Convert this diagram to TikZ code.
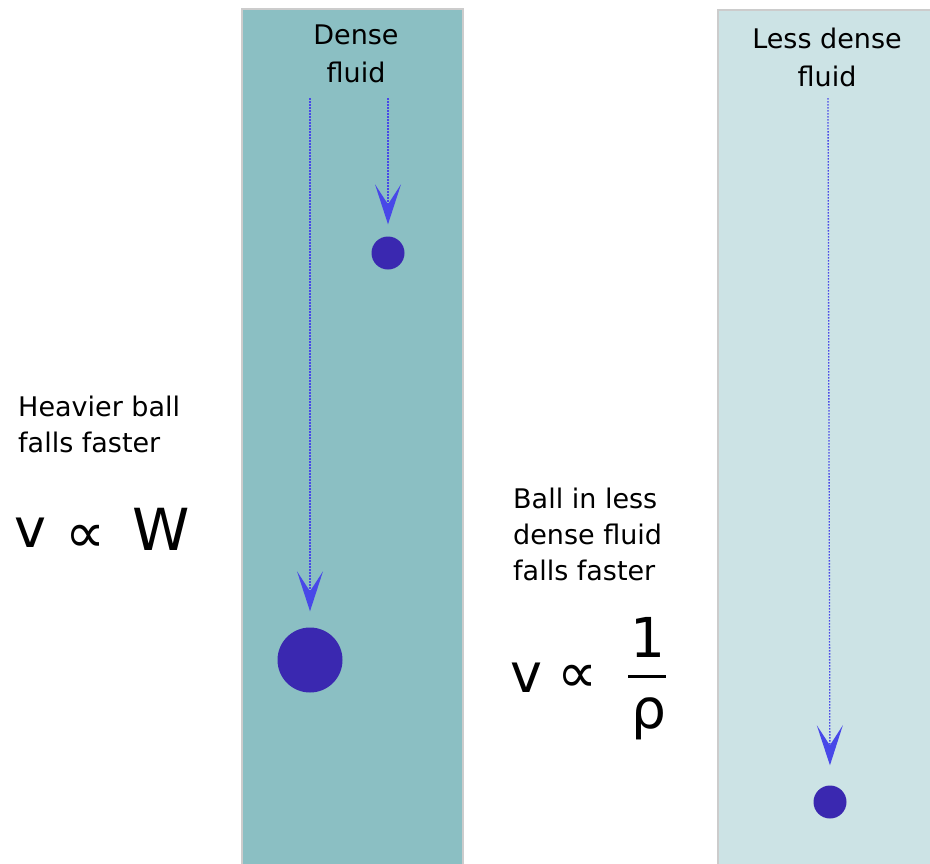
\documentclass[tikz,border=0pt]{standalone}
\usepackage{fontspec}
\setmainfont{DejaVu Sans}
\usetikzlibrary{arrows.meta}
\definecolor{densefill}{HTML}{8BBFC3}
\definecolor{lessfill}{HTML}{CCE3E5}
\definecolor{tankedge}{HTML}{CCCCCC}
\definecolor{arrowblue}{HTML}{4848E8}
\definecolor{ballblue}{HTML}{3A28B0}
\tikzset{
  tank/.style={draw=tankedge, line width=2.5pt},
  fall/.style={arrowblue, line width=1.3pt, dash pattern=on 1.5pt off 1.5pt,
    -{Stealth[length=40pt,width=26pt,inset=20pt]}},
  ball/.style={circle, fill=ballblue, inner sep=0pt, draw=none},
  lbl/.style={font=\fontsize{27}{38}\selectfont, align=center, inner sep=0pt, anchor=base},
  side/.style={font=\fontsize{27}{36}\selectfont, align=left, anchor=base west, inner sep=0pt},
  big/.style={inner sep=0pt, anchor=base west}
}
\begin{document}
\begin{tikzpicture}[x=1pt,y=-1pt]
\useasboundingbox (0,0) rectangle (930,863);
\fill[white] (0,0) rectangle (930,863);
% tanks
\path[fill=densefill, tank] (242,9) rectangle (463,880);
\path[fill=lessfill, tank] (718,10) rectangle (945,880);
% tank labels (anchor = baseline of last line)
\node[lbl] (dlab) at (356,82) {Dense\\fluid};
\node[lbl] (llab) at (827,86) {Less dense\\fluid};
% balls
\node[ball, minimum size=33pt] (b1) at (388,253) {};
\node[ball, minimum size=65pt] (b2) at (310,660) {};
\node[ball, minimum size=33pt] (b3) at (830,802) {};
% fall paths
\coordinate (s1) at (388,98);
\coordinate (s2) at (310,98);
\coordinate (s3) at (828,98);
\draw[fall, shorten >=12pt] (s1) -- (b1.north);
\draw[fall, shorten >=16pt] (s2) -- (b2.north);
\draw[fall, shorten >=20pt] (s3) -- (b3.north);
% side texts
\node[side] (t1) at (18,452) {Heavier ball\\falls faster};
\node[big, font=\fontsize{54}{54}\selectfont] (v1) at (14,547) {v};
\node[big, font=\fontsize{56}{56}\selectfont] (p1) at (65,552) {∝};
\node[big, font=\fontsize{58}{58}\selectfont] (w1) at (132,550) {W};
\node[side] (t2) at (513,580) {Ball in less\\dense fluid\\falls faster};
\node[big, font=\fontsize{54}{54}\selectfont] (v2) at (510,692) {v};
\node[big, font=\fontsize{56}{56}\selectfont] (p2) at (557,692) {∝};
\node[inner sep=0pt, anchor=base, font=\fontsize{55}{55}\selectfont] (num) at (648,657) {1};
\node[inner sep=0pt, anchor=base, font=\fontsize{55}{55}\selectfont] (den) at (649,728) {ρ};
\draw[line width=3pt] (628,676) -- (666,676);
\end{tikzpicture}
\end{document}
